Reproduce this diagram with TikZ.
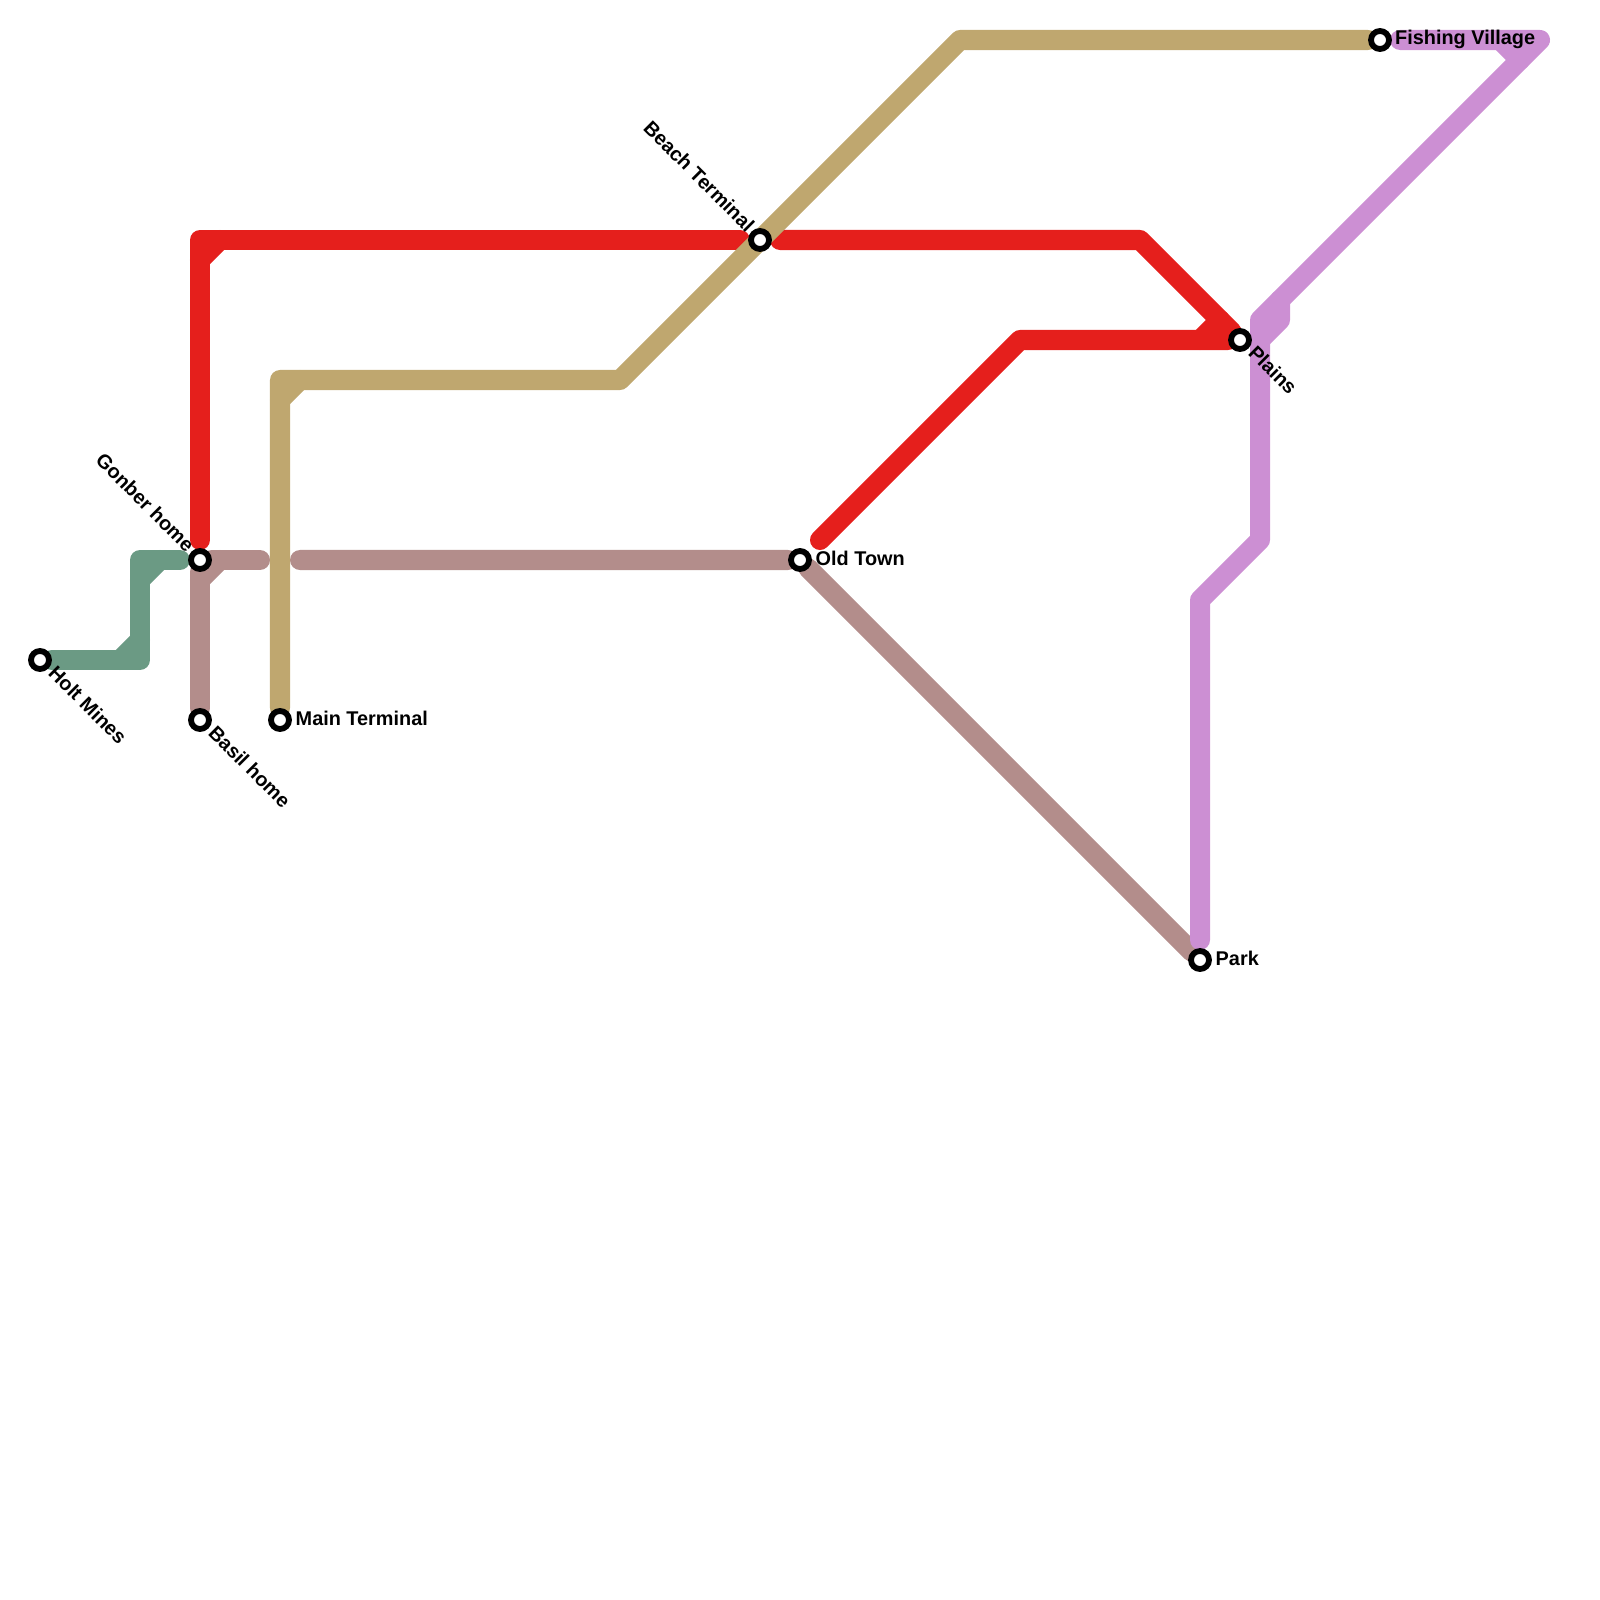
\documentclass[tikz,border=0pt]{standalone}
\usepackage{fontspec}
\setmainfont{Liberation Sans}
\usepackage{xcolor}
\usetikzlibrary{backgrounds}
\definecolor{redline}{HTML}{E51F1C}
\definecolor{tanline}{HTML}{BFA76F}
\definecolor{brownline}{HTML}{B38D8B}
\definecolor{greenline}{HTML}{6B9A84}
\definecolor{purpleline}{HTML}{CC8FD3}

\begin{document}
\begin{tikzpicture}[x=0.01cm,y=-0.01cm,
		metro/.style={line width=0.2cm,line cap=round,line join=round},
		station/.style={circle,draw=black,fill=white,line width=0.058cm,minimum size=0.18cm,inner sep=0pt},
		stationname/.style={inner sep=0pt,font=\fontsize{5.65}{6.8}\selectfont\bfseries}]
			\useasboundingbox (0,0) rectangle (1600,1600);
			% stations
			\node[station] (holt) at (40,660) {};
			\node[station] (gonber) at (200,560) {};
			\node[station] (basil) at (200,720) {};
			\node[station] (mainterm) at (280,720) {};
			\node[station] (beach) at (760,240) {};
			\node[station] (oldtown) at (800,560) {};
			\node[station] (park) at (1200,960) {};
			\node[station] (plains) at (1240,340) {};
			\node[station] (fishing) at (1380,40) {};
			% bends and free ends
			\coordinate (greenA) at (140,660);
			\coordinate (greenB) at (140,560);
			\coordinate (greenEnd) at (180,560);
			\coordinate (brownEndA) at (260,560);
			\coordinate (brownEndB) at (300,560);
			\coordinate (redEndA) at (200,540);
			\coordinate (redA) at (200,240);
			\coordinate (redEndB) at (740,240);
			\coordinate (redEndC) at (780,240);
			\coordinate (redB) at (1140,240);
			\coordinate (redEndD) at (820,540);
			\coordinate (redC) at (1020,340);
			\coordinate (tanA) at (280,380);
			\coordinate (tanB) at (620,380);
			\coordinate (tanC) at (960,40);
			\coordinate (purpleEndA) at (1200,940);
			\coordinate (purpleA) at (1200,600);
			\coordinate (purpleB) at (1260,540);
			\coordinate (purpleC) at (1260,320);
			\coordinate (purpleD) at (1540,40);
			\coordinate (purpleEndB) at (1400,40);
			% lines
			\begin{scope}[on background layer]
			\draw[metro,greenline] (holt) -- (greenA) -- (greenB) -- (greenEnd);
			\draw[metro,greenline] (greenA) ++(-20,0) -- ++(20,-20);
			\draw[metro,greenline] (greenB) ++(0,20) -- ++(20,-20);
			\draw[metro,brownline] (basil) -- (gonber) -- (brownEndA);
			\draw[metro,brownline] (gonber) ++(0,20) -- ++(20,-20);
			\draw[metro,brownline] (brownEndB) -- (oldtown) -- (park);
			\draw[metro,redline] (redEndA) -- (redA) -- (redEndB);
			\draw[metro,redline] (redA) ++(0,20) -- ++(20,-20);
			\draw[metro,redline] (redEndC) -- (redB) -- (plains);
			\draw[metro,redline] (redEndD) -- (redC) -- (plains);
			\draw[metro,redline] (plains) ++(-40,0) -- ++(20,-20);
			\draw[metro,tanline] (mainterm) -- (tanA) -- (tanB) -- (tanC) -- (fishing);
			\draw[metro,tanline] (tanA) ++(0,20) -- ++(20,-20);
			\draw[metro,purpleline] (purpleEndA) -- (purpleA) -- (purpleB) -- (purpleC) -- (purpleD) -- (purpleEndB);
			\draw[metro,purpleline] (purpleD) ++(-40,0) -- ++(20,20);
			\draw[metro,purpleline] (purpleC) ++(0,20) -- ++(20,-20) -- ++(0,-20);
			\end{scope}
			% names
			\node[stationname,anchor=base west,rotate=-45] (holtname) at (46.8,673.8) {Holt Mines};
			\node[stationname,anchor=base east,rotate=-45] (gonbername) at (186.5,553.5) {Gonber home};
			\node[stationname,anchor=base west,rotate=-45] (basilname) at (206.8,733.8) {Basil home};
			\node[stationname,anchor=base west] (maintermname) at (295,725) {Main Terminal};
			\node[stationname,anchor=base east,rotate=-45] (beachname) at (746.5,233.5) {Beach Terminal};
			\node[stationname,anchor=base west] (oldtownname) at (815,565) {Old Town};
			\node[stationname,anchor=base west] (parkname) at (1215,965) {Park};
			\node[stationname,anchor=base west,rotate=-45] (plainsname) at (1246.8,353.8) {Plains};
			\node[stationname,anchor=base west] (fishingname) at (1394.5,45) {Fishing Village};
		\end{tikzpicture}
\end{document}
